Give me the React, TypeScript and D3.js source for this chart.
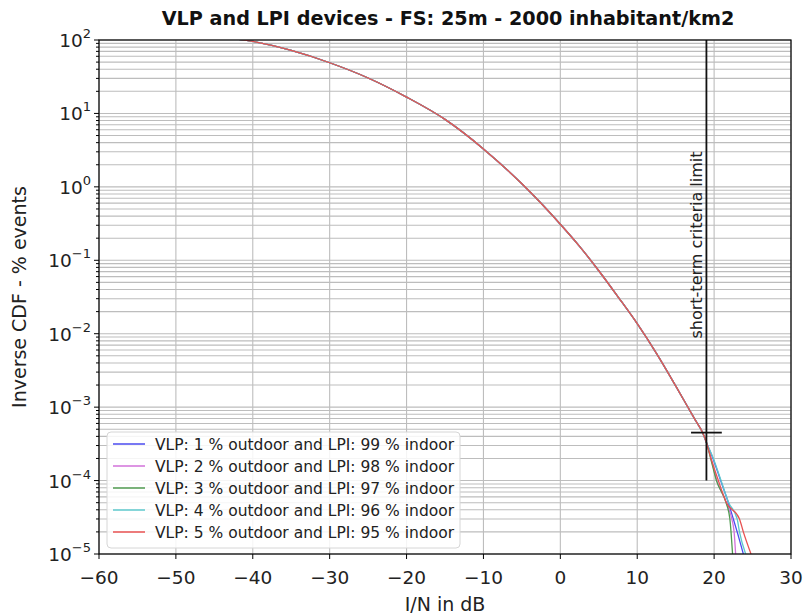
import React, { useEffect, useRef } from 'react';
import * as d3 from 'd3';

// shared part of the inverse CDF (all five cases overlap here)
const headX = [-43, -40, -35, -30, -25, -20, -15, -10, -5, 0, 2.5, 5, 7.5, 10, 12.5, 15, 17.5, 18.5, 19];
const headY = [106, 95.5, 72, 49, 30.4, 16.7, 8.3, 3.29, 1.1, 0.31, 0.155, 0.072, 0.0318, 0.0137, 5.4e-3, 1.95e-3, 6.8e-4, 4.5e-4, 3.3e-4];

// tails: I/N reached at each probability level
const tailY = [2e-4, 1e-4, 5e-5, 3e-5, 2e-5, 1e-5];
const tail1 = [19.85, 20.85, 21.85, 22.5, 23.0, 23.8];
const tail2 = [19.6, 20.35, 21.6, 22.3, 22.6, 22.8];
const tail3 = [19.55, 20.3, 21.55, 22.05, 22.2, 22.4];
const tail4 = [19.9, 20.9, 21.9, 23.0, 23.3, 24.1];
const tail5 = [19.6, 20.55, 21.6, 23.3, 23.8, 24.8];

const seriesNames = [
	'VLP: 1 % outdoor and LPI: 99 % indoor',
	'VLP: 2 % outdoor and LPI: 98 % indoor',
	'VLP: 3 % outdoor and LPI: 97 % indoor',
	'VLP: 4 % outdoor and LPI: 96 % indoor',
	'VLP: 5 % outdoor and LPI: 95 % indoor',
];
const seriesColors = ['#4b4bef', '#d272da', '#4f9a4f', '#5ec9cc', '#e85252'];
const tails = [tail1, tail2, tail3, tail4, tail5];

const xTicks = [-60, -50, -40, -30, -20, -10, 0, 10, 20, 30];
const yExps = [-5, -4, -3, -2, -1, 0, 1, 2];

const limitX = 19;
const limitTop = 100;
const limitBottom = 1e-4;
const markY = 4.5e-4;
const markX = [17, 21];

const W = 804;
const H = 615;
const left = 99;
const right = 791;
const top = 40;
const bottom = 554;
const font = 'DejaVu Sans, sans-serif';

const draw = (node: SVGSVGElement) => {
	const svg = d3.select(node);
	svg.selectAll('*').remove();

	const x = d3.scaleLinear().domain([-60, 30]).range([left, right]);
	const y = d3.scaleLog().domain([1e-5, 1e2]).range([bottom, top]);

	svg.append('rect').attr('width', W).attr('height', H).attr('fill', '#fff');

	svg.append('defs').append('clipPath').attr('id', 'plot')
		.append('rect')
		.attr('x', left).attr('y', top)
		.attr('width', right - left).attr('height', bottom - top);

	const grid = svg.append('g').attr('stroke', '#bdbdbd').attr('stroke-width', 1.1);
	yExps.forEach((e) => {
		for (let m = 1; m <= 9; m++) {
			const v = m * Math.pow(10, e);
			if (v > 100) break;
			grid.append('line')
				.attr('x1', left).attr('x2', right)
				.attr('y1', y(v)).attr('y2', y(v));
		}
	});
	xTicks.forEach((t) => {
		grid.append('line')
			.attr('x1', x(t)).attr('x2', x(t))
			.attr('y1', top).attr('y2', bottom);
	});

	const line = d3.line<[number, number]>()
		.x((d) => x(d[0]))
		.y((d) => y(d[1]))
		.curve(d3.curveMonotoneX);

	const plot = svg.append('g').attr('clip-path', 'url(#plot)');
	tails.forEach((tl, i) => {
		const pts: [number, number][] = headX.map((v, j) => [v, headY[j]]);
		tl.forEach((v, j) => pts.push([v, tailY[j]]));
		plot.append('path')
			.attr('d', line(pts))
			.attr('fill', 'none')
			.attr('stroke', seriesColors[i])
			.attr('stroke-width', 1.3);
	});

	// short-term criteria marker
	svg.append('line')
		.attr('x1', x(limitX)).attr('x2', x(limitX))
		.attr('y1', y(limitTop)).attr('y2', y(limitBottom))
		.attr('stroke', '#111').attr('stroke-width', 1.8);
	svg.append('line')
		.attr('x1', x(markX[0])).attr('x2', x(markX[1]))
		.attr('y1', y(markY)).attr('y2', y(markY))
		.attr('stroke', '#111').attr('stroke-width', 1.8);
	svg.append('text')
		.attr('transform', `translate(${ x(limitX) - 4 },245) rotate(-90)`)
		.attr('text-anchor', 'middle')
		.attr('font-family', font).attr('font-size', 16)
		.attr('fill', '#222')
		.text('short-term criteria limit');

	// legend
	const lg = svg.append('g');
	lg.append('rect')
		.attr('x', 107).attr('y', 432).attr('width', 353).attr('height', 116)
		.attr('rx', 4)
		.attr('fill', '#fff').attr('fill-opacity', 0.85)
		.attr('stroke', '#d6d6d6');
	seriesNames.forEach((n, i) => {
		const ly = 444 + i * 22;
		lg.append('line')
			.attr('x1', 113).attr('x2', 145)
			.attr('y1', ly).attr('y2', ly)
			.attr('stroke', seriesColors[i]).attr('stroke-width', 1.5);
		lg.append('text')
			.attr('x', 155).attr('y', ly + 5.5)
			.attr('font-family', font).attr('font-size', 15.5)
			.attr('fill', '#222')
			.text(n);
	});

	// frame and ticks
	svg.append('rect')
		.attr('x', left).attr('y', top)
		.attr('width', right - left).attr('height', bottom - top)
		.attr('fill', 'none').attr('stroke', '#000').attr('stroke-width', 1.2);

	const ticks = svg.append('g').attr('stroke', '#000');
	xTicks.forEach((t) => {
		ticks.append('line')
			.attr('x1', x(t)).attr('x2', x(t))
			.attr('y1', bottom).attr('y2', bottom + 5);
		svg.append('text')
			.attr('x', x(t)).attr('y', bottom + 30)
			.attr('text-anchor', 'middle')
			.attr('font-family', font).attr('font-size', 18.5)
			.attr('fill', '#222')
			.text(t < 0 ? `\u2212${ -t }` : `${ t }`);
	});
	yExps.forEach((e) => {
		const p = Math.pow(10, e);
		ticks.append('line')
			.attr('x1', left - 5).attr('x2', left)
			.attr('y1', y(p)).attr('y2', y(p));
		for (let m = 2; m <= 9 && e < 2; m++) {
			ticks.append('line')
				.attr('x1', left - 3).attr('x2', left)
				.attr('y1', y(m * p)).attr('y2', y(m * p));
		}
		const t = svg.append('text')
			.attr('x', left - 8).attr('y', y(p) + 7)
			.attr('text-anchor', 'end')
			.attr('font-family', font).attr('font-size', 18.5)
			.attr('fill', '#222');
		t.append('tspan').text('10');
		t.append('tspan').attr('dy', -9).attr('font-size', 13)
			.text(e < 0 ? `\u2212${ -e }` : `${ e }`);
	});

	svg.append('text')
		.attr('x', (left + right) / 2 + 3).attr('y', 25)
		.attr('text-anchor', 'middle')
		.attr('font-family', font).attr('font-size', 19.2).attr('font-weight', 'bold')
		.attr('fill', '#111')
		.text('VLP and LPI devices - FS: 25m - 2000 inhabitant/km2');
	svg.append('text')
		.attr('x', (left + right) / 2).attr('y', 611)
		.attr('text-anchor', 'middle')
		.attr('font-family', font).attr('font-size', 19)
		.attr('fill', '#222')
		.text('I/N in dB');
	svg.append('text')
		.attr('transform', `translate(26,${ (top + bottom) / 2 }) rotate(-90)`)
		.attr('text-anchor', 'middle')
		.attr('font-family', font).attr('font-size', 19)
		.attr('fill', '#222')
		.text('Inverse CDF - % events');
};

const App = () => {
	const ref = useRef<SVGSVGElement>(null);

	useEffect(() => {
		if (ref.current) draw(ref.current);
	}, []);

	return (
		<svg ref={ ref } width={ W } height={ H }
			style={ { position: 'absolute', left: 0, top: 0 } }/>
	);
};

export default App;
